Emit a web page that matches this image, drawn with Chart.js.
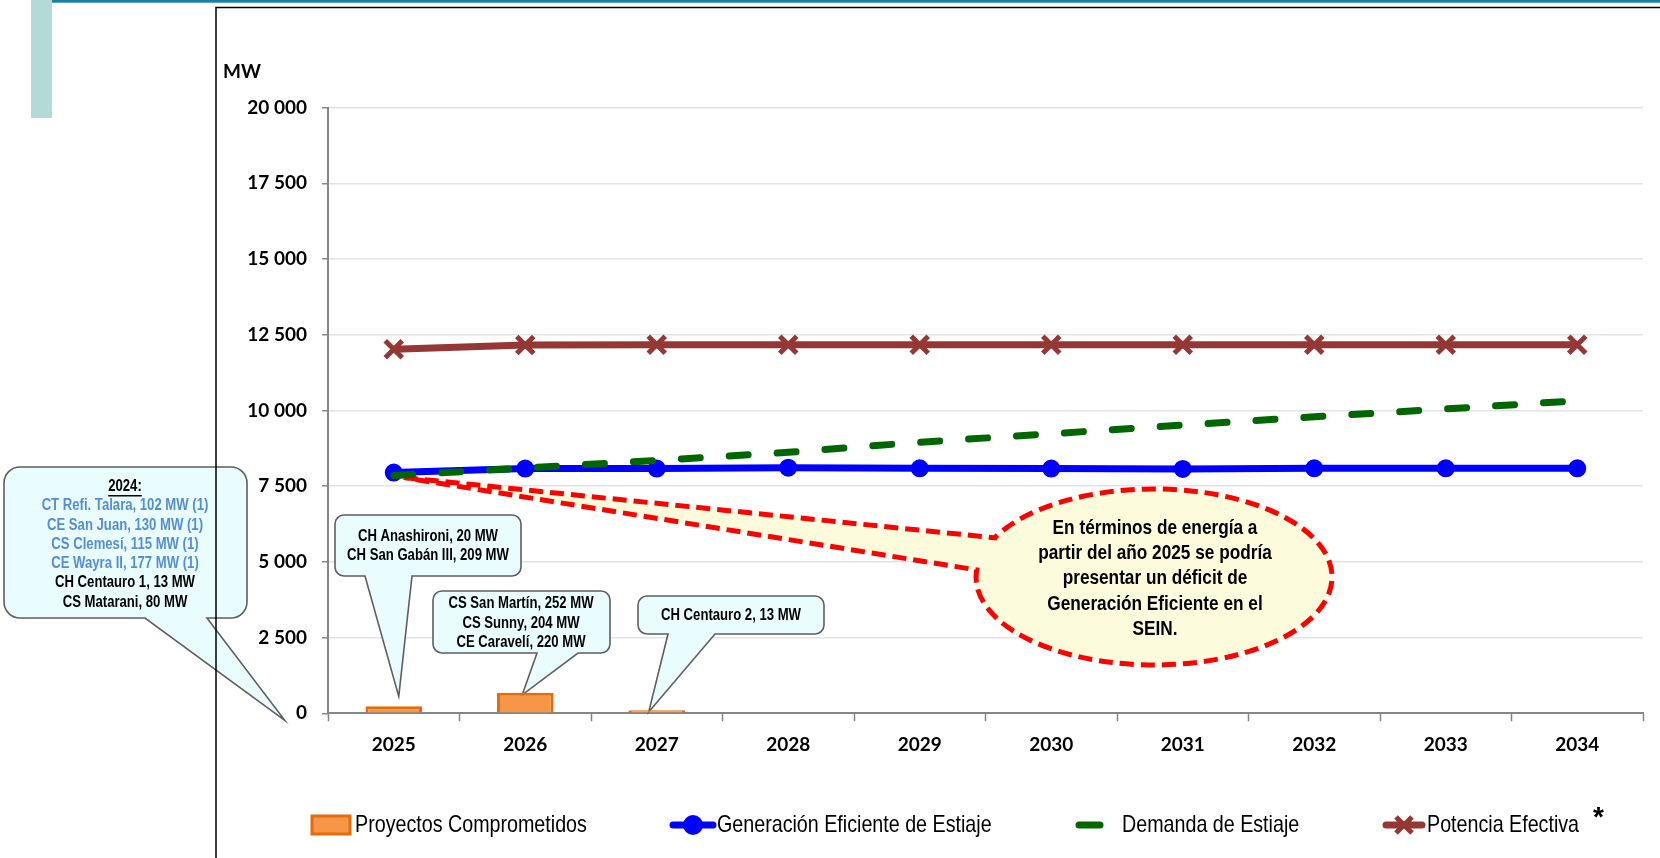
<!DOCTYPE html>
<html><head><meta charset="utf-8">
<script src="https://cdn.jsdelivr.net/npm/chart.js@4.4.1/dist/chart.umd.min.js"></script>
<style>html,body{margin:0;padding:0;background:#fff;overflow:hidden}canvas{display:block}</style>
</head><body>
<canvas id="c" width="1660" height="858"></canvas>
<script>
// ---------- data ----------
const years = ['2025','2026','2027','2028','2029','2030','2031','2032','2033','2034'];
const proyectos = [229, 676, 13];
const generacion = [7950, 8080, 8080, 8110, 8090, 8080, 8070, 8090, 8090, 8090];
const demanda = [7850, 8100, 8350, 8620, 8950, 9230, 9520, 9790, 10050, 10320];
const potencia = [12020, 12160, 12170, 12170, 12170, 12170, 12170, 12170, 12170, 12170];
const yTicks = [0, 2500, 5000, 7500, 10000, 12500, 15000, 17500, 20000];
const yTickLabels = ['0', '2 500', '5 000', '7 500', '10 000', '12 500', '15 000', '17 500', '20 000'];
const seriesNames = ['Proyectos Comprometidos', 'Generación Eficiente de Estiaje', 'Demanda de Estiaje', 'Potencia Efectiva'];
const axisUnit = 'MW';
const note2024Title = '2024:';
const note2024Blue = ['CT Refi. Talara, 102 MW (1)', 'CE San Juan, 130 MW (1)', 'CS Clemesí, 115 MW (1)', 'CE Wayra II, 177 MW (1)'];
const note2024Black = ['CH Centauro 1, 13 MW', 'CS Matarani, 80 MW'];
const note2025 = ['CH Anashironi, 20 MW', 'CH San Gabán III, 209 MW'];
const note2026 = ['CS San Martín, 252 MW', 'CS Sunny, 204 MW', 'CE Caravelí, 220 MW'];
const note2027 = ['CH Centauro 2, 13 MW'];
const deficitNote = ['En términos de energía a', 'partir del año 2025 se podría', 'presentar un déficit de', 'Generación Eficiente en el', 'SEIN.'];

// ---------- styles ----------
const SANS = "'Liberation Sans', Arial, sans-serif";
const NX = 0.82; // horizontal condensation (Arial Narrow look)
const C_BAR = '#F79646', C_BAR_B = '#E46C0A';
const C_GEN = '#0000FF', C_DEM = '#006600', C_POT = '#953735';
const C_NOTE = '#E9FCFE', C_NOTE_B = '#5E5E5E';

function ntext(ctx, t, x, y) {
  ctx.save(); ctx.translate(x, y); ctx.scale(NX, 1); ctx.fillText(t, 0, 0); ctx.restore();
}
function calloutPath(ctx, x, y, w, h, r, bx1, bx2, tx, ty) {
  ctx.beginPath();
  ctx.moveTo(x + r, y);
  ctx.lineTo(x + w - r, y);
  ctx.arcTo(x + w, y, x + w, y + r, r);
  ctx.lineTo(x + w, y + h - r);
  ctx.arcTo(x + w, y + h, x + w - r, y + h, r);
  ctx.lineTo(bx2, y + h);
  ctx.lineTo(tx, ty);
  ctx.lineTo(bx1, y + h);
  ctx.lineTo(x + r, y + h);
  ctx.arcTo(x, y + h, x, y + h - r, r);
  ctx.lineTo(x, y + r);
  ctx.arcTo(x, y, x + r, y, r);
  ctx.closePath();
  ctx.fillStyle = C_NOTE; ctx.fill();
  ctx.lineWidth = 1.6; ctx.strokeStyle = C_NOTE_B; ctx.setLineDash([]); ctx.stroke();
}
function lines(ctx, arr, cx, y0, dy, color) {
  ctx.fillStyle = color;
  arr.forEach((t, i) => ntext(ctx, t, cx, y0 + i * dy));
}

const decor = {
  id: 'decor',
  beforeDraw(chart) {
    const ctx = chart.ctx;
    ctx.save();
    ctx.fillStyle = '#B3DAD7'; ctx.fillRect(31, 0, 21, 118);
    ctx.fillStyle = '#1B7DA5'; ctx.fillRect(52, 0, 1608, 2.7);
    ctx.restore();
  },
  beforeDatasetsDraw(chart) {
    const ctx = chart.ctx, xs = chart.scales.x, ys = chart.scales.y;
    ctx.save();
    // deficit ellipse callout
    const tipX = xs.getPixelForValue(0) + 10, tipY = ys.getPixelForValue(generacion[0]) + 5;
    const cx = 1154, cy = 577, rx = 178, ry = 88;
    const t1 = Math.atan2((538 - cy) / ry, (997 - cx) / rx);
    let t2 = Math.atan2((570 - cy) / ry, (978 - cx) / rx);
    if (t2 < t1) t2 += Math.PI * 2;
    ctx.beginPath();
    ctx.moveTo(tipX, tipY);
    ctx.lineTo(997, 538);
    ctx.ellipse(cx, cy, rx, ry, 0, t1, t2, false);
    ctx.lineTo(tipX, tipY);
    ctx.closePath();
    ctx.fillStyle = '#FCFCDC'; ctx.fill();
    ctx.setLineDash([14, 7]); ctx.lineWidth = 5; ctx.strokeStyle = '#FF0000'; ctx.lineJoin = 'miter';
    ctx.stroke();
    ctx.setLineDash([]);
    ctx.textAlign = 'center'; ctx.textBaseline = 'middle';
    ctx.font = 'bold 21px ' + SANS;
    lines(ctx, deficitNote, 1155, 528, 25.3, '#000');

    // bar callouts
    ctx.font = 'bold 16px ' + SANS;
    const x0 = xs.getPixelForValue(0), x1 = xs.getPixelForValue(1), x2 = xs.getPixelForValue(2);
    calloutPath(ctx, 4, 467, 243, 151, 16, 145, 207, x0 - 109, ys.getPixelForValue(0) + 7);
    ctx.fillStyle = '#000';
    ntext(ctx, note2024Title, 125, 487);
    const tw = ctx.measureText(note2024Title).width * NX;
    ctx.fillRect(125 - tw / 2, 495, tw, 1.5);
    lines(ctx, note2024Blue, 125, 506, 19.3, '#558ED5');
    lines(ctx, note2024Black, 125, 583, 19.3, '#000');

    calloutPath(ctx, 335, 515, 186, 61, 9, 365, 412, x0 + 5, ys.getPixelForValue(proyectos[0]) - 10);
    lines(ctx, note2025, 428, 537, 18.5, '#000');

    calloutPath(ctx, 433, 591, 177, 62, 9, 537, 578, x1 - 3, ys.getPixelForValue(proyectos[1]) + 2);
    lines(ctx, note2026, 521, 603.5, 19.6, '#000');

    calloutPath(ctx, 638, 596, 186, 38, 9, 668, 715, x2 - 8, ys.getPixelForValue(proyectos[2]) - 1);
    lines(ctx, note2027, 731, 616, 19.6, '#000');
    ctx.restore();
  },
  afterDraw(chart) {
    const ctx = chart.ctx;
    ctx.save();
    // frame
    ctx.strokeStyle = '#000'; ctx.lineWidth = 1.5;
    ctx.beginPath(); ctx.moveTo(216, 858); ctx.lineTo(216, 7.5); ctx.lineTo(1660, 7.5); ctx.stroke();
    // unit
    ctx.fillStyle = '#000'; ctx.font = 'bold 19px Lato'; ctx.textAlign = 'left'; ctx.textBaseline = 'alphabetic';
    ctx.fillText(axisUnit, 223, 78);
    // legend
    const ly = 825;
    ctx.font = '24px ' + SANS; ctx.textBaseline = 'middle';
    // 1 bars
    ctx.fillStyle = C_BAR; ctx.fillRect(312, ly - 9, 38, 18);
    ctx.strokeStyle = C_BAR_B; ctx.lineWidth = 3; ctx.strokeRect(312, ly - 9, 38, 18);
    ctx.fillStyle = '#000'; ntext(ctx, seriesNames[0], 355, ly);
    // 2 generacion
    ctx.strokeStyle = C_GEN; ctx.lineWidth = 7; ctx.lineCap = 'round';
    ctx.beginPath(); ctx.moveTo(673, ly); ctx.lineTo(713, ly); ctx.stroke();
    ctx.fillStyle = C_GEN; ctx.beginPath(); ctx.arc(693, ly, 10, 0, Math.PI * 2); ctx.fill();
    ctx.fillStyle = '#000'; ntext(ctx, seriesNames[1], 717, ly);
    // 3 demanda
    ctx.strokeStyle = C_DEM; ctx.lineWidth = 7;
    ctx.beginPath(); ctx.moveTo(1079, ly); ctx.lineTo(1100, ly); ctx.stroke();
    ctx.fillStyle = '#000'; ntext(ctx, seriesNames[2], 1122, ly);
    // 4 potencia
    ctx.strokeStyle = C_POT; ctx.lineWidth = 7;
    ctx.beginPath(); ctx.moveTo(1386, ly); ctx.lineTo(1422, ly); ctx.stroke();
    ctx.lineCap = 'butt'; ctx.lineWidth = 5;
    const d = 8;
    ctx.beginPath(); ctx.moveTo(1404 - d, ly - d); ctx.lineTo(1404 + d, ly + d);
    ctx.moveTo(1404 + d, ly - d); ctx.lineTo(1404 - d, ly + d); ctx.stroke();
    ctx.fillStyle = '#000'; ntext(ctx, seriesNames[3], 1427, ly);
    ctx.font = 'bold 28px ' + SANS; ctx.textBaseline = 'alphabetic';
    ctx.fillText('*', 1593, 826);
    ctx.restore();
  }
};

const tickFont = { family: 'Lato', weight: 'bold', size: 19 };

new Chart(document.getElementById('c'), {
  data: {
    labels: years,
    datasets: [
      { type: 'bar', label: seriesNames[0], data: proyectos, order: 4,
        backgroundColor: C_BAR, borderColor: C_BAR_B, borderWidth: 3, minBarLength: 3,
        barPercentage: 0.43, categoryPercentage: 1 },
      { type: 'line', label: seriesNames[1], data: generacion, order: 3,
        borderColor: C_GEN, borderWidth: 7, pointStyle: 'circle', pointRadius: 8,
        pointBackgroundColor: C_GEN, pointBorderColor: C_GEN, pointBorderWidth: 2, tension: 0 },
      { type: 'line', label: seriesNames[2], data: demanda, order: 1,
        borderColor: C_DEM, borderWidth: 7, borderDash: [19, 29], borderCapStyle: 'round',
        pointRadius: 0, tension: 0 },
      { type: 'line', label: seriesNames[3], data: potencia, order: 2,
        borderColor: C_POT, borderWidth: 7, pointStyle: 'crossRot', pointRadius: 12,
        pointBorderColor: C_POT, pointBorderWidth: 5, tension: 0 }
    ]
  },
  options: {
    responsive: false, animation: false, devicePixelRatio: 1,
    layout: { padding: { left: 0, right: 0, top: 107.6, bottom: 0 } },
    plugins: { legend: { display: false }, tooltip: { enabled: false } },
    scales: {
      x: {
        offset: true,
        grid: { display: true, drawOnChartArea: false, offset: true, drawTicks: true, tickLength: 8, tickColor: '#868686', tickWidth: 1.5 },
        border: { display: true, color: '#868686', width: 2 },
        ticks: { font: tickFont, color: '#000', padding: 12, maxRotation: 0, autoSkip: false },
        afterFit: s => { s.height = 858 - 713.3; }
      },
      y: {
        min: 0, max: 20000,
        afterBuildTicks: s => { s.ticks = yTicks.map(v => ({ value: v })); },
        ticks: { font: tickFont, color: '#000', padding: 15, callback: (v, i) => yTickLabels[i] },
        grid: { color: c => (c.tick && c.tick.value === 0) ? 'rgba(0,0,0,0)' : '#E3E3E3', lineWidth: 1.5, tickLength: 6, tickColor: '#868686', tickWidth: 1.5 },
        border: { display: true, color: '#868686', width: 2 },
        afterFit: s => { s.width = 328; }
      }
    }
  },
  plugins: [decor]
});
</script>
</body></html>
